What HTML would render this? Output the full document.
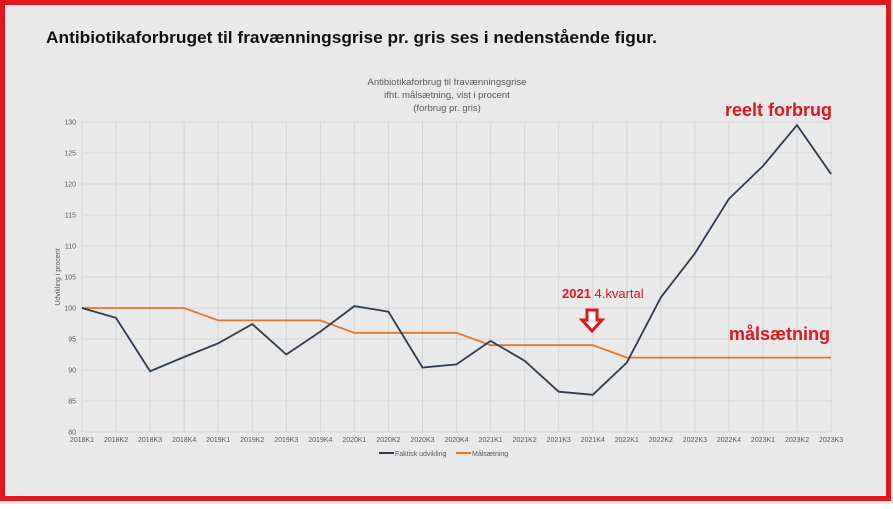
<!DOCTYPE html>
<html><head><meta charset="utf-8"><style>
body{margin:0;width:893px;height:504px;overflow:hidden;background:#fff;font-family:"Liberation Sans",sans-serif}
</style></head><body>
<svg width="893" height="504" xmlns="http://www.w3.org/2000/svg" font-family="Liberation Sans, sans-serif">
<rect x="0" y="0" width="893" height="504" fill="#e9e9e9"/>
<rect x="2.5" y="2.5" width="886" height="496" fill="none" stroke="#e3161e" stroke-width="5"/>
<text x="46" y="43" font-size="17" font-weight="bold" fill="#111" textLength="611" lengthAdjust="spacingAndGlyphs">Antibiotikaforbruget til fravænningsgrise pr. gris ses i nedenstående figur.</text>
<g font-size="9.5" fill="#595959" text-anchor="middle">
<text x="447" y="85">Antibiotikaforbrug til fravænningsgrise</text>
<text x="447" y="98">ifht. målsætning, vist i procent</text>
<text x="447" y="111">(forbrug pr. gris)</text>
</g>
<g id="grid" stroke="#d6d6d6" stroke-width="1"></g>
<g id="lbl" font-size="7" fill="#595959"></g>
<text transform="translate(60,277) rotate(-90)" font-size="7" fill="#595959" text-anchor="middle">Udvikling i procent</text>
<polyline id="tgt" fill="none" stroke="#e0782e" stroke-width="1.8"/>
<polyline id="act" fill="none" stroke="#2f3c50" stroke-width="1.8"/>
<line x1="379" y1="453" x2="394" y2="453" stroke="#2f3c50" stroke-width="2"/>
<text x="395" y="456" font-size="7" fill="#595959">Faktisk udvikling</text>
<line x1="456" y1="453" x2="471" y2="453" stroke="#e0782e" stroke-width="2"/>
<text x="472" y="456" font-size="7" fill="#595959">Målsætning</text>
<text x="725" y="116" font-size="18" font-weight="bold" fill="#e3161e">reelt forbrug</text>
<text x="729" y="340" font-size="18" font-weight="bold" fill="#e3161e">målsætning</text>
<text x="562" y="298" font-size="13" fill="#e3161e"><tspan font-weight="bold">2021</tspan> 4.kvartal</text>
<path d="M587,310 h10 v10 h5 l-10,11 l-10,-11 h5 z" fill="#fff" stroke="#e3161e" stroke-width="3" stroke-linejoin="miter"/>
</svg>
<script>
var ns="http://www.w3.org/2000/svg",x0=82,st=34.05,n=23;
function Y(v){return 122+(130-v)*6.2}
var g=document.getElementById('grid'),l=document.getElementById('lbl');
function el(p,t,a){var e=document.createElementNS(ns,t);for(var k in a)e.setAttribute(k,a[k]);p.appendChild(e);return e}
for(var v=80;v<=130;v+=5){el(g,'line',{x1:x0,x2:x0+st*22,y1:Y(v),y2:Y(v)});var t=el(l,'text',{x:76,y:Y(v)+2.5,'text-anchor':'end'});t.textContent=v}
var labs=[];for(var yr=2018;yr<=2023;yr++)for(var q=1;q<=4;q++)if(labs.length<n)labs.push(yr+'K'+q);
for(var i=0;i<n;i++){var x=x0+i*st;el(g,'line',{x1:x,x2:x,y1:Y(130),y2:Y(80)});var t=el(l,'text',{x:x,y:442,'text-anchor':'middle'});t.textContent=labs[i]}
var a=[100,98.4,89.8,92.1,94.3,97.4,92.5,96.2,100.3,99.4,90.4,90.9,94.7,91.5,86.5,86.0,91.2,101.7,108.8,117.6,122.9,129.5,121.6];
var tg=[100,100,100,100,98,98,98,98,96,96,96,96,94,94,94,94,92,92,92,92,92,92,92];
function pts(d){return d.map(function(v,i){return (x0+i*st).toFixed(1)+','+Y(v).toFixed(1)}).join(' ')}
document.getElementById('act').setAttribute('points',pts(a));
document.getElementById('tgt').setAttribute('points',pts(tg));
</script>
</body></html>
